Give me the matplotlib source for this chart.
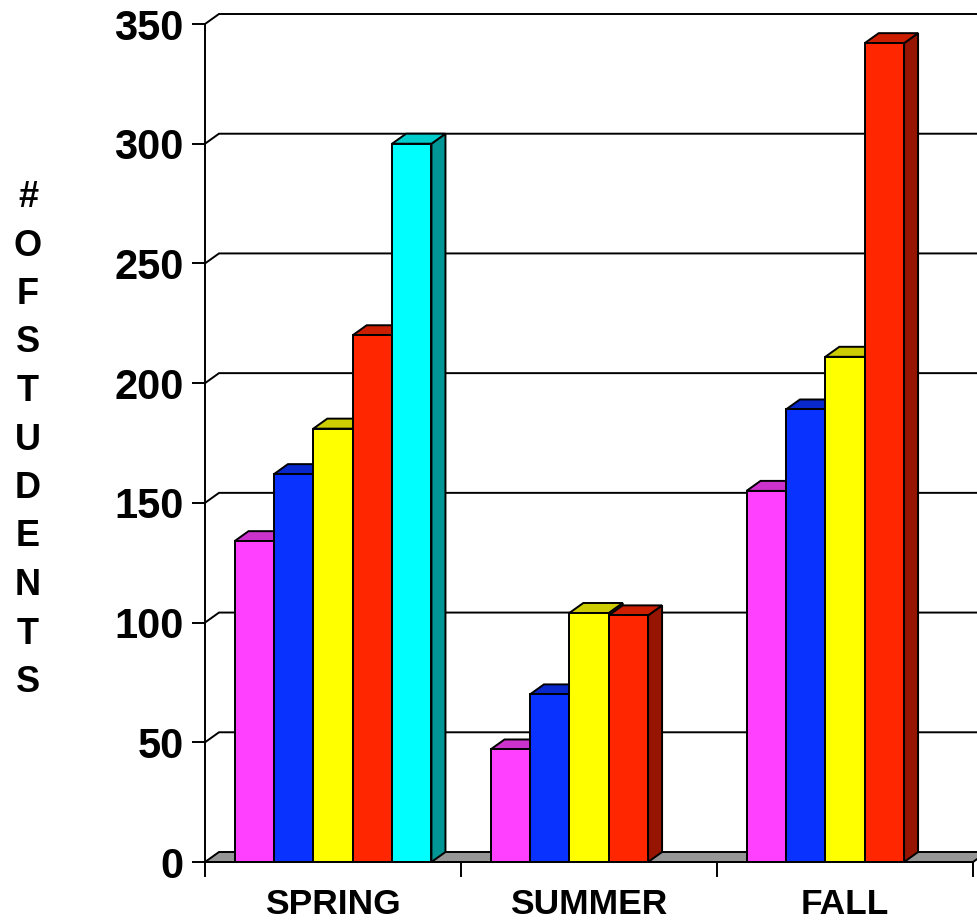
import matplotlib
matplotlib.use("Agg")
import matplotlib.pyplot as plt
from matplotlib.patches import Polygon

# ---- data ----
categories = ["SPRING", "SUMMER", "FALL"]
series_pink = [134, 47, 155]
series_blue = [162, 70, 189]
series_yellow = [181, 104, 211]
series_red = [220, 103, 342]
series_cyan = [300, None, None]
y_ticks = [0, 50, 100, 150, 200, 250, 300, 350]
y_label = "# OF STUDENTS"

series = [series_pink, series_blue, series_yellow, series_red, series_cyan]
# (front, top, side) colours per series
colors = [
    ("#FF40FF", "#CC33CC", "#992699"),
    ("#0A32FF", "#0828CC", "#061E99"),
    ("#FFFF00", "#CCCC00", "#999900"),
    ("#FF2600", "#CC1E00", "#961400"),
    ("#00FFFF", "#00CCCC", "#009696"),
]

plt.rcParams['font.family'] = ['Liberation Sans', 'DejaVu Sans']

W, H = 977, 924
fig = plt.figure(figsize=(W / 100, H / 100), dpi=100)
ax = fig.add_axes([205 / W, 62 / H, 768 / W, 838 / H])
ax.set_xlim(0, 3)
ax.set_ylim(0, 350)

DX = 14 / 256.0       # depth offset in x (data units)
DY = 10 / 2.394       # depth offset in y (data units)
LW = 1.4

n_series = len(series)
bar_w = 1.0 / (n_series + 1.5)
offset = 0.75 * bar_w

# floor
floor = Polygon([(0, 0), (3, 0), (3 + DX, DY), (DX, DY)], closed=True,
                facecolor="#969696", edgecolor="black", lw=LW, zorder=2,
                clip_on=False)
ax.add_patch(floor)

# gridlines on walls
for v in y_ticks[1:]:
    ax.plot([0, DX, 3 + DX], [v, v + DY, v + DY], color="black", lw=LW,
            zorder=1, clip_on=False, solid_joinstyle="miter")

# bars
for ci in range(len(categories)):
    for si, vals in enumerate(series):
        v = vals[ci]
        if v is None:
            continue
        fc, tc, sc = colors[si]
        x0 = ci + offset + si * bar_w
        x1 = x0 + bar_w
        z = 3 + ci * 10 + si
        front = Polygon([(x0, 0), (x1, 0), (x1, v), (x0, v)], closed=True,
                        facecolor=fc, edgecolor="black", lw=LW, zorder=z,
                        clip_on=False, joinstyle="miter")
        top = Polygon([(x0, v), (x1, v), (x1 + DX, v + DY), (x0 + DX, v + DY)],
                      closed=True, facecolor=tc, edgecolor="black", lw=LW,
                      zorder=z, clip_on=False, joinstyle="miter")
        side = Polygon([(x1, 0), (x1 + DX, DY), (x1 + DX, v + DY), (x1, v)],
                       closed=True, facecolor=sc, edgecolor="black", lw=LW,
                       zorder=z, clip_on=False, joinstyle="miter")
        ax.add_patch(side)
        ax.add_patch(top)
        ax.add_patch(front)

# axes styling
for s in ["top", "right"]:
    ax.spines[s].set_visible(False)
ax.spines["left"].set_linewidth(LW)
ax.spines["bottom"].set_linewidth(LW)
ax.spines["left"].set_zorder(50)
ax.spines["bottom"].set_zorder(50)

ax.set_yticks(y_ticks)
ax.set_yticklabels([str(t) for t in y_ticks], fontsize=30, fontweight="bold")
ax.tick_params(axis="y", direction="out", length=9.5, width=LW, pad=6)

ax.set_xticks([0, 1, 2, 3])
ax.set_xticklabels([])
ax.tick_params(axis="x", which="major", direction="out", length=11, width=LW)
ax.set_xticks([0.5, 1.5, 2.5], minor=True)
ax.set_xticklabels(categories, minor=True, fontsize=25.5, fontweight="bold")
ax.tick_params(axis="x", which="minor", length=0, pad=19)

# stacked vertical y label
letters = [c for c in y_label if c != " "]
fig.text(28 / W, 1 - 440 / H, "\n".join(letters), ha="center", va="center",
         fontsize=26, fontweight="bold", linespacing=1.5,
         multialignment="center")

fig.savefig("out.png", dpi=100)
